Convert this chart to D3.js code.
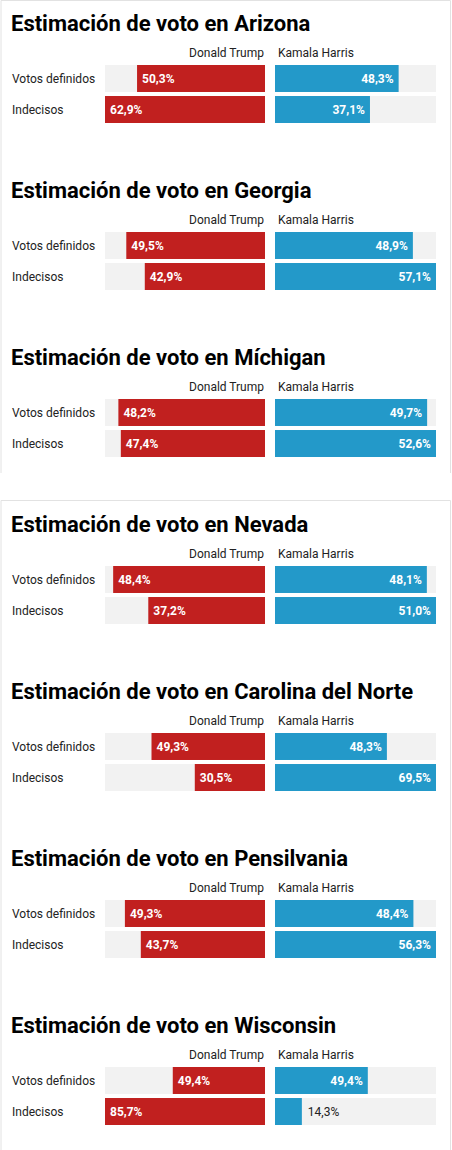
<!DOCTYPE html>
<html>
<head>
<meta charset="utf-8">
<script src="https://cdn.jsdelivr.net/npm/d3@7"></script>
<style>
  html, body { margin: 0; padding: 0; background: #fff; }
  svg { display: block; font-family: Roboto, "Noto Sans", sans-serif; }
</style>
</head>
<body>
<svg id="chart" width="452" height="1150"></svg>
<script>
const states = ["Arizona", "Georgia", "Míchigan", "Nevada", "Carolina del Norte", "Pensilvania", "Wisconsin"];
const rows = ["Votos definidos", "Indecisos"];
const candidates = ["Donald Trump", "Kamala Harris"];
const trumpDefinidos = [50.3, 49.5, 48.2, 48.4, 49.3, 49.3, 49.4];
const harrisDefinidos = [48.3, 48.9, 49.7, 48.1, 48.3, 48.4, 49.4];
const trumpIndecisos = [62.9, 42.9, 47.4, 37.2, 30.5, 43.7, 85.7];
const harrisIndecisos = [37.1, 57.1, 52.6, 51.0, 69.5, 56.3, 14.3];

const RED = "#c1201f", BLUE = "#2399c9", BG = "#f2f2f2";
const svg = d3.select("#chart");
const fmt = v => d3.format(".1f")(v).replace(".", ",") + "%";

const step = 167;
// panel borders (two framed blocks)
const blockY = [[0, 473], [500, 1160]];
blockY.forEach(([y0, y1]) => {
  svg.append("path")
    .attr("d", `M1,${y1} V${y0 + 0.5} H450.5 V${y1}`)
    .attr("fill", "none").attr("stroke", "#e2e2e2").attr("stroke-width", 1);
});

const leftRange = [265, 105], rightRange = [275, 436];
const yBand = d3.scaleBand().domain(rows).range([65, 123]).paddingInner(0.13);

states.forEach((st, i) => {
  const g = svg.append("g").attr("transform", `translate(0,${i * step})`);
  const tv = [trumpDefinidos[i], trumpIndecisos[i]];
  const hv = [harrisDefinidos[i], harrisIndecisos[i]];
  const maxV = d3.max(tv.concat(hv));
  const xL = d3.scaleLinear().domain([0, maxV]).range(leftRange);
  const xR = d3.scaleLinear().domain([0, maxV]).range(rightRange);

  g.append("text").attr("x", 11).attr("y", 31)
    .attr("font-size", 22).attr("font-weight", 700).attr("fill", "#000")
    .text("Estimación de voto en " + st);

  g.append("text").attr("x", 264).attr("y", 57).attr("text-anchor", "end")
    .attr("font-size", 12).attr("fill", "#222").text(candidates[0]);
  g.append("text").attr("x", 278).attr("y", 57)
    .attr("font-size", 12).attr("fill", "#222").text(candidates[1]);

  rows.forEach((r, j) => {
    const y = yBand(r), h = yBand.bandwidth();
    g.append("text").attr("x", 12).attr("y", y + h / 2).attr("dy", "0.35em")
      .attr("font-size", 12).attr("fill", "#222").text(r);
    // backgrounds
    g.append("rect").attr("x", xL(maxV)).attr("y", y).attr("width", xL(0) - xL(maxV)).attr("height", h).attr("fill", BG);
    g.append("rect").attr("x", xR(0)).attr("y", y).attr("width", xR(maxV) - xR(0)).attr("height", h).attr("fill", BG);
    // trump
    const tw = xL(0) - xL(tv[j]);
    g.append("rect").attr("x", xL(tv[j])).attr("y", y).attr("width", tw).attr("height", h).attr("fill", RED);
    const tIn = tw >= 42;
    g.append("text").attr("x", tIn ? xL(tv[j]) + 5 : xL(tv[j]) - 5).attr("y", y + h / 2).attr("dy", "0.35em")
      .attr("text-anchor", tIn ? "start" : "end")
      .attr("font-size", 12).attr("font-weight", tIn ? 700 : 400).attr("fill", tIn ? "#fff" : "#222")
      .text(fmt(tv[j]));
    // harris
    const hw = xR(hv[j]) - xR(0);
    g.append("rect").attr("x", xR(0)).attr("y", y).attr("width", hw).attr("height", h).attr("fill", BLUE);
    const hIn = hw >= 42;
    g.append("text").attr("x", hIn ? xR(hv[j]) - 5 : xR(hv[j]) + 6).attr("y", y + h / 2).attr("dy", "0.35em")
      .attr("text-anchor", hIn ? "end" : "start")
      .attr("font-size", 12).attr("font-weight", hIn ? 700 : 400).attr("fill", hIn ? "#fff" : "#222")
      .text(fmt(hv[j]));
  });
});
</script>
</body>
</html>
